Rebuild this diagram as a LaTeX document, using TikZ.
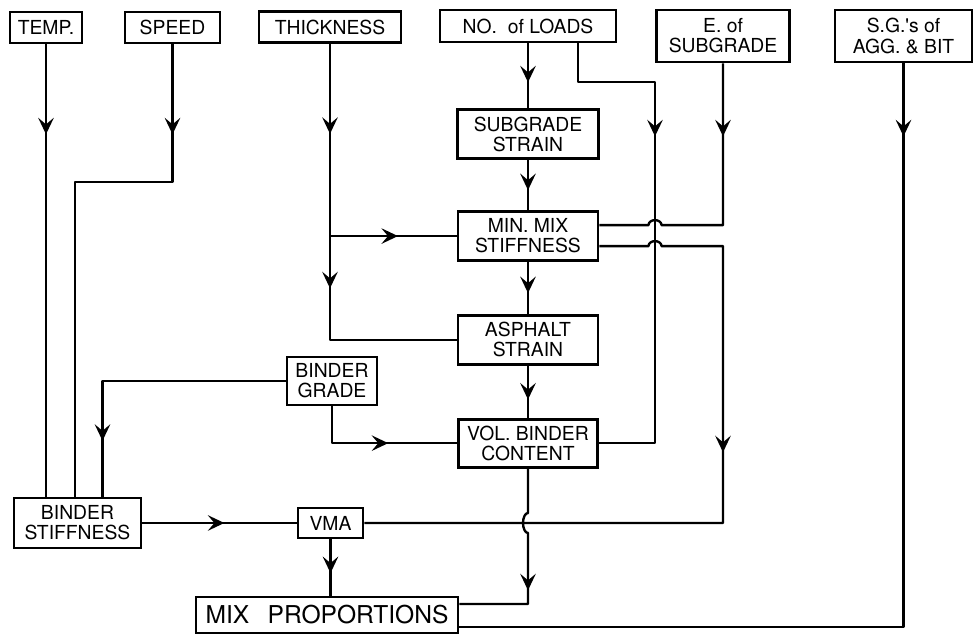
\documentclass[tikz,border=0pt]{standalone}
\usepackage{fontspec}
\usepackage{tikz}
\usetikzlibrary{arrows.meta,calc,positioning,decorations.markings}
\newfontfamily\letterfont{TeX Gyre Heros}
\tikzset{
  facbox/.style={draw=black,line width=1.6pt,align=center,inner sep=1pt,
    font=\letterfont\fontsize{11}{11.4}\selectfont},
  flowline/.style={draw=black,line width=1.35pt,line join=round},
  tipat/.style={postaction={decorate,decoration={markings,
    mark=at position #1 with {\arrow{Stealth[length=3.3mm,width=3.1mm,inset=1.3mm]}}}}}
}
\begin{document}
\begin{tikzpicture}[x=0.02cm,y=0.02cm]
  \useasboundingbox (0,0) rectangle (974,635);

  % --- Input quantities ---
  \node[facbox,minimum width=1.44cm,minimum height=0.62cm] (temp) at (46,607.5) {TEMP.};
  \node[facbox,minimum width=1.9cm,minimum height=0.62cm] (speed) at (172.5,607.5) {SPEED};
  \node[facbox,minimum width=2.84cm,minimum height=0.62cm] (thick) at (330,608) {THICKNESS};
  \node[facbox,minimum width=3.52cm,minimum height=0.64cm] (loads) at (528,609) {NO.\ \ of\ LOADS};
  \node[facbox,minimum width=2.66cm,minimum height=1.04cm] (esub) at (723,599) {E.\ of\\SUBGRADE};
  \node[facbox,minimum width=2.74cm,minimum height=1.04cm] (sg) at (903.5,599) {S.G.'s of\\AGG.\ \& BIT};

  % --- Design chain ---
  \node[facbox,minimum width=2.82cm,minimum height=0.98cm,below=1.3cm of loads] (subgr) {SUBGRADE\\STRAIN};
  \node[facbox,minimum width=2.8cm,minimum height=0.98cm,below=1.0cm of subgr] (minmix) {MIN.\ MIX\\STIFFNESS};
  \node[facbox,minimum width=2.8cm,minimum height=0.98cm,below=1.04cm of minmix] (asph) {ASPHALT\\STRAIN};
  \node[facbox,minimum width=2.78cm,minimum height=0.96cm,below=1.04cm of asph] (vbc) {VOL.\ BINDER\\CONTENT};

  \node[facbox,minimum width=1.8cm,minimum height=0.96cm] (bgrade) at (332,254) {BINDER\\GRADE};
  \node[facbox,minimum width=2.54cm,minimum height=1.0cm] (bstiff) at (77.5,112) {BINDER\\STIFFNESS};
  \node[facbox,minimum width=1.3cm,minimum height=0.6cm] (vma) at (330.5,112) {VMA};
  \node[facbox,minimum width=5.24cm,minimum height=0.72cm,
    font=\letterfont\fontsize{14}{16}\selectfont] (mix) at (327,20) {MIX\hspace{0.75em}PROPORTIONS};

  % --- Helper points ---
  \coordinate (sbend) at (172.5,453);
  \coordinate (lbend) at (578,553);
  \coordinate (lcol) at (655,553);
  \coordinate (mmhi) at ($(minmix.east)+(0,11)$);
  \coordinate (mmlo) at ($(minmix.east)+(0,-10)$);
  \coordinate (mixtop) at ($(mix.east)+(0,11)$);
  \coordinate (mixbot) at ($(mix.east)+(0,-12)$);

  % --- Inputs to binder stiffness ---
  \draw[flowline,tipat=1.8cm] (temp.south) -- (temp.south |- bstiff.north);
  \draw[flowline,tipat=1.8cm] (speed.south) -- (sbend) -| ($(bstiff.north)+(-2.5,0)$);
  \draw[flowline,tipat=4.86cm] (bgrade.west) -| ($(bstiff.north)+(25,0)$);

  % --- Thickness ---
  \draw[flowline,tipat=1.8cm,tipat=4.89cm] (thick.south) |- (asph.west);
  \draw[flowline,tipat=1.36cm] (thick.south |- minmix.west) -- (minmix.west);

  % --- Central column ---
  \draw[flowline,tipat=0.6] (loads.south) -- (subgr.north);
  \draw[flowline,tipat=0.6] (subgr.south) -- (minmix.north);
  \draw[flowline,tipat=0.6] (minmix.south) -- (asph.north);
  \draw[flowline,tipat=0.65] (asph.south) -- (vbc.north);
  \draw[flowline,tipat=1.86cm] (bgrade.south) |- (vbc.west);

  % --- Loads to binder content ---
  \draw[flowline,tipat=3.4cm] (loads.south -| lbend) -- (lbend) -- (lcol)
    -- (lcol |- vbc.east) -- (vbc.east);

  % --- Subgrade modulus to min. mix stiffness (jumps) ---
  \draw[flowline,tipat=1.46cm] (esub.south) -- (esub.south |- mmhi)
    -- ($(lcol |- mmhi)+(6.5,0)$) arc[start angle=0,end angle=180,x radius=1.3mm,y radius=1mm]
    -- (mmhi);

  % --- Min. mix stiffness to VMA ---
  \draw[flowline,tipat=6.7cm] (mmlo) -- ($(lcol |- mmlo)+(-6.5,0)$)
    arc[start angle=180,end angle=0,x radius=1.3mm,y radius=1mm]
    -- (esub.south |- mmlo) -- (esub.south |- vma.east) -- (vma.east);

  % --- Binder content to mix (jump over VMA line) ---
  \draw[flowline,tipat=2.52cm] (vbc.south) -- ($(vbc.south |- vma.east)+(0,10)$)
    arc[start angle=90,end angle=270,x radius=1mm,y radius=2mm]
    -- (vbc.south |- mixtop) -- (mixtop);

  % --- Binder stiffness, VMA, specific gravities ---
  \draw[flowline,tipat=1.64cm] (bstiff.east) -- (vma.west);
  \draw[flowline,tipat=0.6] (vma.south) -- (vma.south |- mix.north);
  \draw[flowline,tipat=1.46cm] (sg.south) -- (sg.south |- mixbot) -- (mixbot);

\end{tikzpicture}
\end{document}
